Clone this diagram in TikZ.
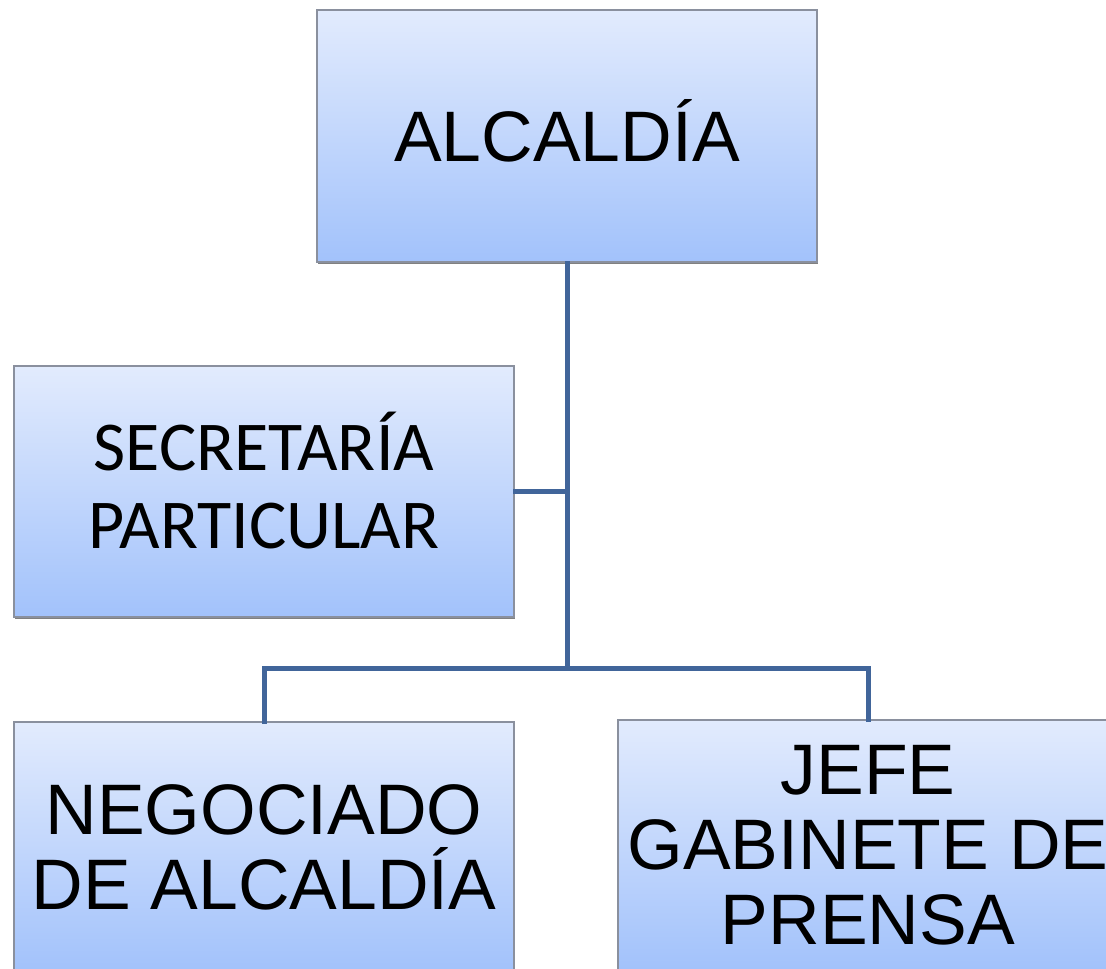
\documentclass[tikz,border=0pt]{standalone}
\usepackage{fontspec}
\usetikzlibrary{shadows}
\newfontfamily\arialf{Liberation Sans}
\newfontfamily\calibrif{Carlito}
\definecolor{boxtop}{RGB}{226,235,253}
\definecolor{boxbot}{RGB}{162,194,251}
\definecolor{boxline}{RGB}{138,144,158}
\definecolor{connc}{RGB}{65,101,154}
\begin{document}
\begin{tikzpicture}[x=1pt,y=-1pt,
  orgbox/.style={rectangle, draw=boxline, line width=2pt, top color=boxtop, bottom color=boxbot,
    minimum width=500pt, minimum height=251pt, inner sep=0pt, align=center, text=black,
    drop shadow={shadow xshift=0.5pt, shadow yshift=-1.5pt, fill=black!50, opacity=1}},
  arialtext/.style={font=\arialf\fontsize{71.5}{75}\selectfont},
  calibritext/.style={font=\calibrif\fontsize{70}{78}\selectfont},
  conn/.style={draw=connc, line width=5pt, line join=miter, line cap=rect}]
\useasboundingbox (0,0) rectangle (1106,969);
\clip (0,0) rectangle (1106,969);
\fill[white] (0,0) rectangle (1106,969);
\coordinate (hub) at (567,668);
\node[orgbox, arialtext, minimum height=252pt, text height=51.6pt, text depth=0pt] (alc) at (567,136) {ALCALD\'IA};
\node[orgbox, calibritext] (sec) at (264,491.5) {\raisebox{7pt}{\begin{tabular}{@{}c@{}}SECRETAR\'IA\\PARTICULAR\end{tabular}}};
\node[orgbox, arialtext, minimum height=250pt] (neg) at (264,847) {NEGOCIADO\\DE ALCALD\'IA};
\node[orgbox, arialtext, minimum height=250pt] (jefe) at (868,845) {JEFE\\GABINETE DE\\PRENSA};
\draw[conn] (alc.south) -- (alc.south |- hub);
\draw[conn] (sec.east) -- (sec.east -| alc.south);
\draw[conn] (neg.north) |- (hub) -| (jefe.north);
\end{tikzpicture}
\end{document}
